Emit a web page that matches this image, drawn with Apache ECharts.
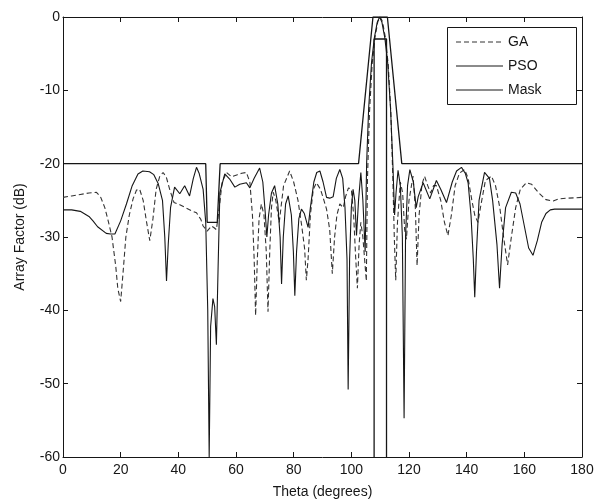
<!DOCTYPE html>
<html>
<head>
<meta charset="utf-8">
<script src="https://cdn.jsdelivr.net/npm/echarts@6/dist/echarts.min.js"></script>
<style>
html,body{margin:0;padding:0;background:#fff;}
#chart{width:597px;height:504px;}
</style>
</head>
<body>
<div id="chart"></div>
<script>
// ---- Data ----
var xTicks = [0, 20, 40, 60, 80, 100, 120, 140, 160, 180];
var yTicks = [-60, -50, -40, -30, -20, -10, 0];
var legendNames = ['GA', 'PSO', 'Mask'];

var gaTheta = [0,3,6,9,11.6,13,14.5,15.8,17,18.3,19,20,20.8,21.8,23,24.3,25.5,26.6,27.8,29,30.1,31.2,32.3,33.5,34.7,35.8,37,38.5,40.5,42.5,44.5,46.3,47.8,48.6,50,51.5,52.3,53.2,54.2,55.2,56.7,58.5,60.5,62,63.6,64.8,65.7,66.3,66.8,67.4,68,68.8,69.7,70.5,71.1,71.7,72.3,72.9,73.8,75,76.5,78.6,80,81.5,82.8,83.8,84.4,85,85.8,86.8,87.9,89.3,90.5,91.4,92.5,93.4,94.2,95,96,97.2,98,99,100,100.8,101.4,102.1,102.7,103.3,104,104.6,105.2,105.6,106.3,107.2,108.2,109.2,110,110.8,111.8,112.8,113.7,114.4,114.9,115.4,116,117,117.8,118.5,119.1,120,121.4,122.2,122.8,123.5,124.5,125.4,126.5,127.5,128.5,129.5,131,132.3,133.5,134.7,136,137.5,139.3,140.5,141.8,142.8,143.9,145,146.5,148.6,150,151.5,152.8,154.2,155.5,157,158.6,160.7,162.5,165,167.5,170,172,175,180];
var gaDb = [-24.6,-24.4,-24.2,-24.0,-23.9,-24.5,-26,-28,-30,-34,-37,-38.8,-35,-30,-27,-24.8,-23.6,-23.5,-25,-28,-30.5,-27.5,-23.5,-21.8,-21.2,-21.8,-23.5,-25.3,-25.6,-26.0,-26.4,-26.7,-27.6,-28.5,-29.2,-28.5,-28.7,-29,-26,-22.5,-21.2,-21.8,-21.5,-21.3,-21.2,-22.5,-27,-33,-40.7,-33,-27.5,-25.5,-27,-32,-40.2,-32,-26,-23.9,-25,-28,-23,-21,-22.5,-25,-28.5,-31.6,-35.9,-33,-27,-23.5,-22.6,-23.5,-25,-26.2,-29,-35,-30,-27,-25.5,-26,-24.5,-23.3,-23.5,-27,-32,-37,-31,-28,-30,-33,-36,-22,-13,-6.5,-2.8,-0.6,0,-0.6,-2.8,-6.5,-13,-22,-30,-35.9,-28,-22.5,-24,-29,-30.3,-25,-21.7,-26,-33.9,-27,-22.8,-21.7,-23,-24,-23,-23,-25,-28,-29.8,-27,-23,-21.3,-20.8,-22,-25,-27,-28,-25.5,-22.3,-21.7,-23,-26,-30,-33.8,-30,-26,-23.5,-22.6,-22.8,-24,-24.9,-25.1,-24.8,-24.7,-24.6];

var psoTheta = [0,3,6,9,10.4,12,15,16.5,18,20,22,24,26,27.7,30,31.5,33,34.5,35.3,35.9,36.5,37.3,38.7,40.5,42.2,43.9,45.2,46.3,47.2,48.6,49.5,50.2,50.7,51.2,52,52.6,53.2,53.8,54.4,56.1,57.8,59.6,61.3,63.6,64.8,66.3,68.2,69.3,70.2,70.7,71.3,72.3,73.4,74.5,75.3,75.8,76.4,77.2,78.1,79.2,79.9,80.4,81,81.8,82.7,83.7,85,85.8,87,88,89.1,90.2,91.4,92.5,93.7,94.8,96,97,97.8,98.5,98.9,99.4,100,100.6,101.2,101.8,102.5,103.3,104,104.8,105.3,106,107,108,109,109.8,110.6,111.6,112.6,113.6,114.4,115,115.5,116.2,117,117.7,118.3,118.8,119.5,120.3,121.5,122.5,123.2,124.9,127.2,129.5,131,133,135,136.5,138.2,139.5,140.5,141.5,142.3,142.8,143.4,144.3,146.2,147.9,149,150.5,151.4,152.3,153.5,155.5,157,158.5,160,161.5,163,164.5,166,167.5,169,170.5,180];
var psoDb = [-26.3,-26.3,-26.5,-27.2,-27.8,-28.6,-29.5,-29.6,-29.6,-27.8,-25.5,-23,-21.4,-21,-21.1,-21.5,-22.7,-25,-30,-36,-31,-26,-23.2,-24.1,-23,-24.4,-22,-20.5,-21.3,-23.5,-28,-40,-60,-42.2,-38.4,-39.5,-44.7,-34,-24,-21.4,-22.1,-23.2,-22.8,-22.6,-23.3,-22,-20.6,-22.5,-27,-30,-27,-24,-23,-25.5,-30,-36.4,-30,-25.5,-24.4,-27,-32,-38,-32,-27.5,-26.2,-26.8,-28.7,-26,-22.5,-21.2,-21,-22.5,-24.6,-24.7,-24.5,-22,-20.8,-22,-26,-33,-50.8,-33,-26,-23.5,-25,-29.8,-25,-21.2,-25,-32,-20,-12.5,-6.2,-2.8,-0.7,0,-0.7,-2.8,-6.2,-12.5,-20,-27,-24,-20.9,-23,-30,-54.7,-30,-23,-20.8,-22.5,-26,-24.5,-22.6,-24.8,-22.3,-23.5,-25.3,-22.5,-21,-20.5,-21.3,-22.6,-27,-33,-38.2,-32,-25,-21.2,-22,-25,-31,-37,-31,-26,-23.9,-24,-25.5,-28.5,-31.5,-32.5,-30.5,-28,-26.8,-26.3,-26.2,-26.2];

var maskTheta = [0,49.5,50,53.5,54.5,102.5,107.5,112.5,117.5,180];
var maskDb = [-20,-20,-28,-28,-20,-20,0,0,-20,-20];
var maskLowTheta = [107.9,107.9,112.2,112.2];
var maskLowDb = [-60,-3,-3,-60];

function pairs(t, v){ return t.map(function(x,i){ return [x, v[i]]; }); }

var FONT = 'Liberation Sans, Arial, sans-serif';
var INK = '#161616';
var GA_COL = '#333333';

var chart = echarts.init(document.getElementById('chart'), null, {renderer:'canvas'});

function xAx(pos, show){
  return {
    type:'value', position:pos, min:0, max:180, interval:20,
    axisLine:{show:true, onZero:false, lineStyle:{color:INK, width:1}},
    axisTick:{show:true, inside:true, length:5, lineStyle:{color:INK}},
    axisLabel:{show:show, color:INK, fontFamily:FONT, fontSize:14, margin:6},
    splitLine:{show:false},
    name: show ? 'Theta (degrees)' : '',
    nameLocation:'middle', nameGap:28,
    nameTextStyle:{color:INK, fontFamily:FONT, fontSize:14}
  };
}
function yAx(pos, show){
  return {
    type:'value', position:pos, min:-60, max:0, interval:10,
    axisLine:{show:true, onZero:false, lineStyle:{color:INK, width:1}},
    axisTick:{show:true, inside:true, length:5, lineStyle:{color:INK}},
    axisLabel:{show:show, color:INK, fontFamily:FONT, fontSize:14, margin:3},
    splitLine:{show:false},
    name: show ? 'Array Factor (dB)' : '',
    nameLocation:'middle', nameGap:36,
    nameTextStyle:{color:INK, fontFamily:FONT, fontSize:14}
  };
}

// legend drawn as graphics (MATLAB-style box)
var legY = [42, 66, 90];
var legendGraphics = [
  {type:'rect', left:447, top:27, shape:{width:129, height:77},
   style:{fill:'#ffffff', stroke:INK, lineWidth:1}, z:100}
];
legendNames.forEach(function(n, i){
  legendGraphics.push({type:'line', shape:{x1:456, y1:legY[i], x2:503, y2:legY[i]},
    style:{stroke: i===0 ? GA_COL : INK, lineWidth:1, lineDash: i===0 ? [5,3] : null}, z:101});
  legendGraphics.push({type:'text', x:508, y:legY[i],
    style:{text:n, fill:INK, font:'14px ' + FONT, textVerticalAlign:'middle', verticalAlign:'middle'}, z:101});
});

var option = {
  backgroundColor:'#ffffff',
  animation:false,
  grid:{left:63, right:15, top:17, bottom:45, containLabel:false},
  xAxis:[xAx('bottom', true), xAx('top', false)],
  yAxis:[yAx('left', true), yAx('right', false)],
  graphic:legendGraphics,
  series:[
    {name:'GA', type:'line', xAxisIndex:0, yAxisIndex:0, data:pairs(gaTheta, gaDb),
     symbol:'none', smooth:false, lineStyle:{color:GA_COL, width:1.1, type:[5,3]}},
    {name:'PSO', type:'line', xAxisIndex:0, yAxisIndex:0, data:pairs(psoTheta, psoDb),
     symbol:'none', smooth:false, lineStyle:{color:INK, width:1.1}},
    {name:'Mask', type:'line', xAxisIndex:0, yAxisIndex:0, data:pairs(maskTheta, maskDb),
     symbol:'none', lineStyle:{color:INK, width:1.3}},
    {name:'Mask', type:'line', xAxisIndex:0, yAxisIndex:0, data:pairs(maskLowTheta, maskLowDb),
     symbol:'none', lineStyle:{color:INK, width:1.3}}
  ]
};
chart.setOption(option);
</script>
</body>
</html>
